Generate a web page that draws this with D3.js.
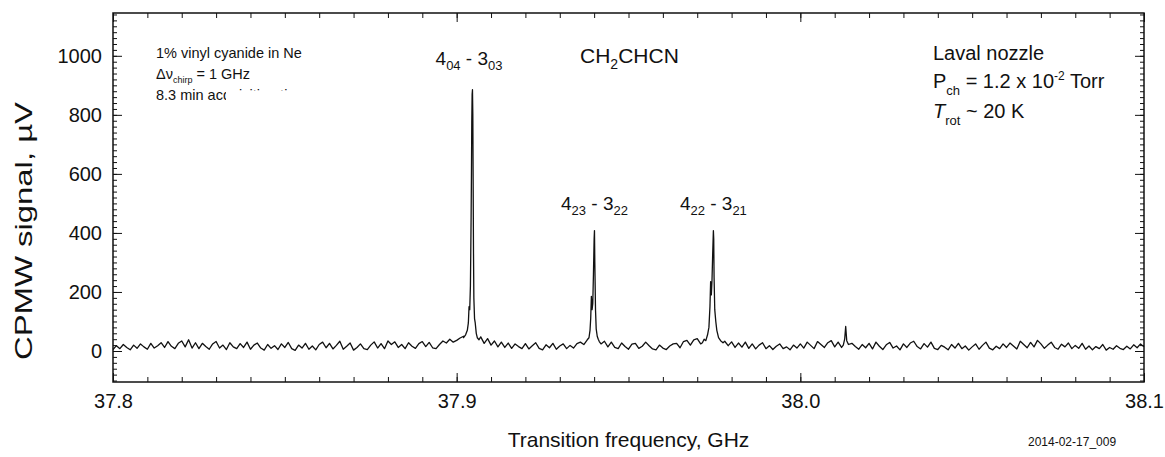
<!DOCTYPE html>
<meta charset="utf-8">
<script src="https://d3js.org/d3.v7.min.js"></script>
<style>
  body { margin: 0; background: #fff; }
  text { font-family: "Liberation Sans", Arial, sans-serif; fill: #111; }
</style>
<body>
<div id="my_dataviz"></div>
<script>
// baseline spectrum, one value every 0.001 GHz from 37.800 to 38.100 (uV)
var baseStart = 37.8, baseStep = 0.001
var baseSignal = [
  5, 18, 8, 22, 12, 4, 20, 9, 24, 14, 6, 26, 10, 18, 28, 12, 32, 16, 8, 26,
  34, 14, 38, 10, 28, 8, 26, 15, 6, 24, 32, 10, 20, 5, 28, 14, 8, 25, 12, 30,
  6, 20, 27, 10, 3, 22, 9, 18, 5, 24, 12, 29, 8, 2, 20, 10, 26, 6, 17, 4,
  22, 30, 11, 26, 7, 19, 33, 6, 16, 27, 3, 12, 24, 8, 5, 20, 31, 10, 25, 8,
  34, 22, 31, 12, 22, 8, 28, 16, 9, 25, 32, 15, 29, 11, 8, 22, 34, 27, 40, 30,
  36, 44, 50, 60, 150, 200, 45, 48, 26, 42, 20, 34, 14, 30, 12, 27, 9, 24, 15, 8,
  25, 7, 18, 28, 9, 4, 21, 11, 26, 6, 17, 24, 8, 19, 10, 25, 30, 22, 38, 60,
  300, 48, 24, 33, 14, 30, 12, 8, 27, 15, 6, 23, 26, 9, 16, 30, 18, 7, 4, 20,
  10, 5, 17, 24, 26, 11, 32, 36, 20, 38, 42, 24, 45, 120, 380, 70, 44, 26, 33, 18,
  31, 12, 27, 13, 30, 9, 24, 7, 20, 28, 8, 18, 5, 16, 24, 8, 14, 4, 20, 10,
  24, 10, 30, 19, 8, 32, 22, 12, 28, 35, 14, 30, 12, 40, 10, 26, 15, 6, 22, 11,
  26, 7, 30, 16, 5, 21, 29, 10, 17, 4, 24, 12, 27, 33, 15, 7, 25, 13, 30, 9,
  5, 19, 13, 4, 22, 10, 26, 8, 17, 3, 14, 24, 6, 19, 30, 10, 4, 16, 8, 24,
  12, 27, 17, 7, 33, 22, 11, 29, 14, 36, 24, 9, 20, 30, 12, 6, 23, 14, 27, 8,
  19, 9, 26, 6, 17, 4, 15, 8, 22, 3, 12, 6, 18, 9, 5, 16, 7, 21, 11, 24,
  14
]

// finer sampling across the lines
var peak1Freq = [37.9020, 37.9026, 37.9031, 37.9034, 37.9036, 37.9038, 37.9040, 37.9041, 37.9042, 37.9043,
                 37.9044, 37.9045, 37.9046, 37.9047, 37.9048, 37.9049, 37.9050, 37.9052, 37.9054, 37.9057,
                 37.9060, 37.9065]
var peak1Signal = [45, 55, 70, 95, 150, 140, 220, 330, 450, 600, 780, 870, 885, 800, 560, 330, 180, 110, 95, 60, 45, 38]

var peak2Freq = [37.9385, 37.9388, 37.9390, 37.9392, 37.9394, 37.9396, 37.9398, 37.9400, 37.9401, 37.9402,
                 37.9404, 37.9406, 37.9409, 37.9412, 37.9415]
var peak2Signal = [45, 70, 110, 185, 140, 160, 260, 380, 408, 300, 140, 75, 50, 40, 32]

var peak3Freq = [37.9715, 37.9720, 37.9725, 37.9730, 37.9734, 37.9737, 37.9739, 37.9741, 37.9743, 37.9745,
                 37.9747, 37.9748, 37.9749, 37.9751, 37.9754, 37.9757, 37.9762, 37.9768, 37.9775]
var peak3Signal = [28, 40, 35, 55, 80, 150, 235, 190, 240, 330, 408, 380, 250, 140, 100, 70, 45, 35, 28]

var peak4Freq = [38.0125, 38.0129, 38.0132, 38.0135, 38.0140]
var peak4Signal = [20, 40, 83, 35, 22]

var xTicks = [37.8, 37.9, 38.0, 38.1]
var xTickLabels = ["37.8", "37.9", "38.0", "38.1"]
var yTicks = [0, 200, 400, 600, 800, 1000]
var yTickLabels = ["0", "200", "400", "600", "800", "1000"]

var width = 1165, height = 457
var plotLeft = 113, plotRight = 1144, plotTop = 13, plotBottom = 382

var svg = d3.select("#my_dataviz").append("svg")
    .attr("width", width).attr("height", height)

var x = d3.scaleLinear().domain([37.8, 38.1]).range([plotLeft, plotRight])
var y = d3.scaleLinear().domain([-105, 1145]).range([plotBottom, plotTop])

// merge the baseline with the fine line profiles
var windows = [[peak1Freq, peak1Signal], [peak2Freq, peak2Signal], [peak3Freq, peak3Signal], [peak4Freq, peak4Signal]]
var data = []
baseSignal.forEach(function(v, i) {
  var f = baseStart + i * baseStep
  var inside = windows.some(function(w) { return f >= w[0][0] && f <= w[0][w[0].length - 1] })
  if (!inside) data.push([f, v])
})
windows.forEach(function(w) {
  w[0].forEach(function(f, i) { data.push([f, w[1][i]]) })
})
data.sort(function(a, b) { return a[0] - b[0] })

svg.append("path")
  .datum(data)
  .attr("fill", "none")
  .attr("stroke", "#111")
  .attr("stroke-width", 1.3)
  .attr("stroke-linejoin", "round")
  .attr("d", d3.line().x(function(d) { return x(d[0]) }).y(function(d) { return y(d[1]) }))

// axes, ticks pointing inward on all four sides
function noDomain(g) { g.select(".domain").remove(); g.selectAll("line").attr("stroke", "#111") }
var xMinor = x.ticks(30)
var yMinor = d3.range(-100, 1141, 20)

svg.append("g").attr("transform", "translate(0," + plotBottom + ")")
  .call(d3.axisBottom(x).tickValues(xMinor).tickSize(-5).tickFormat("")).call(noDomain)
svg.append("g").attr("transform", "translate(0," + plotBottom + ")")
  .call(d3.axisBottom(x).tickValues(xTicks).tickSize(-9).tickPadding(12)
    .tickFormat(function(d, i) { return xTickLabels[i] }))
  .call(noDomain)
  .selectAll("text").style("font-size", "20px").style("font-family", "Liberation Sans, Arial, sans-serif").attr("fill", "#111")
svg.append("g").attr("transform", "translate(0," + plotTop + ")")
  .call(d3.axisTop(x).tickValues(xMinor).tickSize(-5).tickFormat("")).call(noDomain)
svg.append("g").attr("transform", "translate(0," + plotTop + ")")
  .call(d3.axisTop(x).tickValues(xTicks).tickSize(-9).tickFormat("")).call(noDomain)

svg.append("g").attr("transform", "translate(" + plotLeft + ",0)")
  .call(d3.axisLeft(y).tickValues(yMinor).tickSize(-4).tickFormat("")).call(noDomain)
svg.append("g").attr("transform", "translate(" + plotLeft + ",0)")
  .call(d3.axisLeft(y).tickValues(yTicks).tickSize(-9).tickPadding(11)
    .tickFormat(function(d, i) { return yTickLabels[i] }))
  .call(noDomain)
  .selectAll("text").style("font-size", "20px").style("font-family", "Liberation Sans, Arial, sans-serif").attr("fill", "#111")
svg.append("g").attr("transform", "translate(" + plotRight + ",0)")
  .call(d3.axisRight(y).tickValues(yMinor).tickSize(-4).tickFormat("")).call(noDomain)
svg.append("g").attr("transform", "translate(" + plotRight + ",0)")
  .call(d3.axisRight(y).tickValues(yTicks).tickSize(-9).tickFormat("")).call(noDomain)

svg.append("rect")
  .attr("x", plotLeft).attr("y", plotTop).attr("width", plotRight - plotLeft).attr("height", plotBottom - plotTop)
  .attr("fill", "none").attr("stroke", "#111").attr("stroke-width", 1.5)

// axis titles
svg.append("text")
  .attr("x", (plotLeft + plotRight) / 2).attr("y", 447)
  .attr("text-anchor", "middle").style("font-size", "21px")
  .text("Transition frequency, GHz")
svg.append("text")
  .attr("transform", "translate(32,231) rotate(-90)")
  .attr("text-anchor", "middle").style("font-size", "24px")
  .attr("textLength", 258).attr("lengthAdjust", "spacingAndGlyphs")
  .text("CPMW signal, \u00b5V")

svg.append("text")
  .attr("x", 1028).attr("y", 446).style("font-size", "12px")
  .text("2014-02-17_009")

// line labels
function label(cx, cy, a, b, c, d) {
  var el = svg.append("text").attr("x", cx).attr("y", cy).attr("text-anchor", "middle").style("font-size", "19px")
  el.append("tspan").text(a)
  el.append("tspan").attr("dy", 5).style("font-size", "13px").text(b)
  el.append("tspan").attr("dy", -5).text(" - " + c)
  el.append("tspan").attr("dy", 5).style("font-size", "13px").text(d)
}
label(x(37.9036), y(970), "4", "04", "3", "03")
label(x(37.9401), y(477), "4", "23", "3", "22")
label(x(37.9747), y(477), "4", "22", "3", "21")

var mol = svg.append("text").attr("x", 580).attr("y", 63).style("font-size", "21px")
mol.append("tspan").text("CH")
mol.append("tspan").attr("dy", 6).style("font-size", "14px").text("2")
mol.append("tspan").attr("dy", -6).text("CHCN")

// top-left notes
var n1 = svg.append("g").style("font-size", "14.5px")
n1.append("text").attr("x", 156).attr("y", 58).text("1% vinyl cyanide in Ne")
var n2 = n1.append("text").attr("x", 156).attr("y", 79)
n2.append("tspan").text("\u0394\u03bd")
n2.append("tspan").attr("dy", 4).style("font-size", "9px").text("chirp")
n2.append("tspan").attr("dy", -4).text(" = 1 GHz")
n1.append("text").attr("x", 156).attr("y", 100).text("8.3 min acquisition time")
svg.append("rect").attr("x", 226).attr("y", 91).attr("width", 92).attr("height", 14).attr("fill", "#fff")

// top-right notes
var r = svg.append("g").style("font-size", "20px")
r.append("text").attr("x", 933).attr("y", 60).text("Laval nozzle")
var r2 = r.append("text").attr("x", 933).attr("y", 88)
r2.append("tspan").text("P")
r2.append("tspan").attr("dy", 7).style("font-size", "13px").text("ch")
r2.append("tspan").attr("dy", -7).text(" = 1.2 x 10")
r2.append("tspan").attr("dy", -8).style("font-size", "12px").text("-2")
r2.append("tspan").attr("dy", 8).text(" Torr")
var r3 = r.append("text").attr("x", 933).attr("y", 118)
r3.append("tspan").style("font-style", "italic").text("T")
r3.append("tspan").attr("dy", 7).style("font-size", "13px").text("rot")
r3.append("tspan").attr("dy", -7).text(" ~ 20 K")
</script>
</body>
